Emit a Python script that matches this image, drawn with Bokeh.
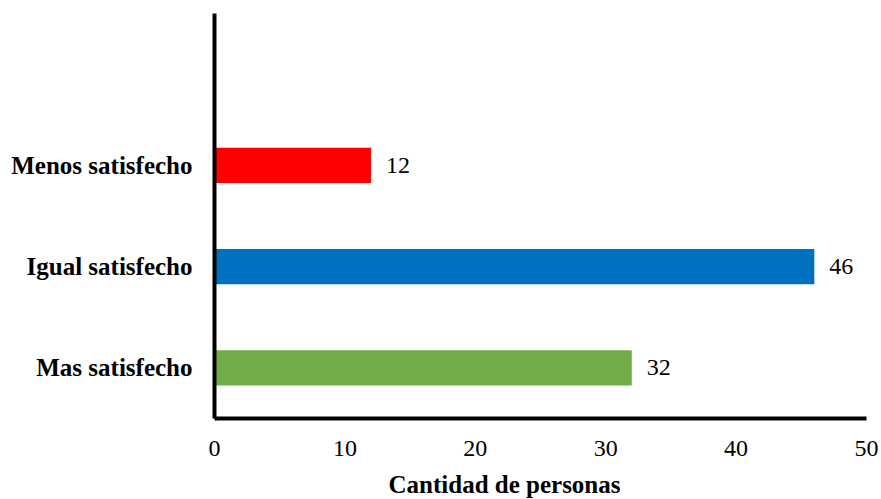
from bokeh.plotting import figure
from bokeh.models import ColumnDataSource, FixedTicker, Range1d, Title
from bokeh.core.properties import value
from bokeh.embed import file_html
from bokeh.resources import INLINE

categories = ["Mas satisfecho", "Igual satisfecho", "Menos satisfecho"]
counts = [32, 46, 12]
colors = ["#70AD47", "#0070C0", "#FF0000"]
x_ticks = [0, 10, 20, 30, 40, 50]
x_title = "Cantidad de personas"

positions = list(range(1, len(categories) + 1))
src = ColumnDataSource(dict(y=positions, x=counts, c=colors,
                            lab=[str(v) for v in counts]))

p = figure(frame_width=652, frame_height=405, output_backend="svg",
           toolbar_location=None,
           x_range=Range1d(0, 50), y_range=Range1d(0.5, len(categories) + 1.5),
           min_border_left=214, min_border_right=15, min_border_top=13,
           min_border_bottom=81)
p.outline_line_color = None
p.background_fill_color = "white"
p.border_fill_color = "white"
p.xgrid.visible = False
p.ygrid.visible = False

p.hbar(y="y", left=0, right="x", height=0.35, fill_color="c", line_color=None, source=src)
p.text(x="x", y="y", text="lab", x_offset=15, text_align="left", text_baseline="middle",
       text_font=value("Liberation Serif"), text_font_size="24px", text_color="black", source=src)

for ax in (p.xaxis[0], p.yaxis[0]):
    ax.axis_line_width = 4
    ax.axis_line_color = "black"
    ax.major_tick_out = 0
    ax.major_tick_in = 0
    ax.minor_tick_out = 0
    ax.minor_tick_in = 0
    ax.major_label_text_font = "Liberation Serif"
    ax.major_label_text_color = "black"

p.xaxis.ticker = FixedTicker(ticks=x_ticks)
p.xaxis.major_label_text_font_size = "24px"
p.xaxis.major_label_standoff = 22

p.yaxis.ticker = FixedTicker(ticks=positions)
p.yaxis.major_label_overrides = {pos: cat for pos, cat in zip(positions, categories)}
p.yaxis.major_label_text_font_size = "25px"
p.yaxis.major_label_text_font_style = "bold"
p.yaxis.major_label_standoff = 22

p.add_layout(Title(text=x_title, align="left", offset=174, standoff=21,
                   text_font="Liberation Serif", text_font_size="25px",
                   text_font_style="bold", text_color="black"), "below")

open("out.html", "w").write(file_html(p, INLINE))
